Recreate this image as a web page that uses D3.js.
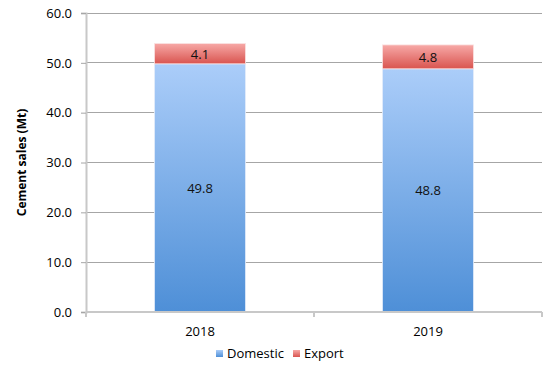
<!DOCTYPE html>
<html><head><meta charset="utf-8">
<script src="https://cdn.jsdelivr.net/npm/d3@7"></script>
<style>body{margin:0;background:#fff;} text{font-family:"Open Sans",sans-serif;}</style>
</head><body>
<svg id="chart" width="554" height="372"></svg>
<script>
const categories = ["2018", "2019"];
const domestic = [49.8, 48.8];
const exportVals = [4.1, 4.8];
const seriesNames = ["Domestic", "Export"];
const yTicks = [0, 10, 20, 30, 40, 50, 60];

const svg = d3.select("#chart");
const m = {l: 86, r: 12, t: 13, b: 60};
const W = 554, H = 372;
const x = d3.scaleBand().domain(categories).range([m.l, W - m.r]).paddingInner(0.6).paddingOuter(0.3);
const y = d3.scaleLinear().domain([0, 60]).range([H - m.b, m.t]);

const defs = svg.append("defs");
function grad(id, top, bottom) {
  const g = defs.append("linearGradient").attr("id", id).attr("x1", 0).attr("y1", 0).attr("x2", 0).attr("y2", 1);
  g.append("stop").attr("offset", "0%").attr("stop-color", top);
  g.append("stop").attr("offset", "100%").attr("stop-color", bottom);
}
grad("gBlue", "#abcdf9", "#4e8fd7");
grad("gRed", "#f7a9a7", "#d9544f");

// gridlines
svg.append("g").selectAll("line").data(yTicks.filter(d => d > 0)).join("line")
  .attr("x1", m.l).attr("x2", W - m.r)
  .attr("y1", d => y(d)).attr("y2", d => y(d))
  .attr("stroke", "#a6a6a6").attr("stroke-width", 1).attr("shape-rendering", "crispEdges");

// y axis
const yAxis = svg.append("g").attr("transform", `translate(${m.l},0)`)
  .call(d3.axisLeft(y).tickValues(yTicks).tickFormat(d3.format(".1f")).tickSize(5).tickPadding(9));
yAxis.select(".domain").attr("stroke", "#c8c8c8").attr("stroke-width", 2);
yAxis.selectAll(".tick line").attr("stroke", "#a6a6a6");
yAxis.selectAll("text").attr("font-size", 13).attr("fill", "#000").style("font-family", "'Open Sans',sans-serif");

// bars
const stack = categories.map((c, i) => ({c, d: domestic[i], e: exportVals[i]}));
const bw = x.bandwidth();
svg.append("g").selectAll("rect").data(stack).join("rect")
  .attr("x", d => x(d.c)).attr("width", bw)
  .attr("y", d => y(d.d)).attr("height", d => y(0) - y(d.d))
  .attr("fill", "url(#gBlue)").attr("stroke", "#e6eefa").attr("stroke-width", 0.8);
svg.append("g").selectAll("rect").data(stack).join("rect")
  .attr("x", d => x(d.c)).attr("width", bw)
  .attr("y", d => y(d.d + d.e)).attr("height", d => y(d.d) - y(d.d + d.e))
  .attr("fill", "url(#gRed)").attr("stroke", "#fbe4e4").attr("stroke-width", 0.8);

// x axis
const xAxisLine = svg.append("g");
xAxisLine.append("line").attr("x1", m.l).attr("x2", W - m.r).attr("y1", y(0)).attr("y2", y(0))
  .attr("stroke", "#c8c8c8").attr("stroke-width", 2);
const step = x.step();
const xTickPos = [m.l, m.l + (W - m.l - m.r) / 2, W - m.r];
xAxisLine.selectAll(".xt").data(xTickPos).join("line").attr("class", "xt")
  .attr("x1", d => d).attr("x2", d => d).attr("y1", y(0)).attr("y2", y(0) + 5)
  .attr("stroke", "#c8c8c8").attr("stroke-width", 2);
svg.append("g").selectAll("text").data(categories).join("text")
  .attr("x", d => x(d) + bw / 2).attr("y", y(0) + 24)
  .attr("text-anchor", "middle").attr("font-size", 13).attr("fill", "#000").text(d => d);

// value labels
svg.append("g").selectAll("text").data(stack).join("text")
  .attr("x", d => x(d.c) + bw / 2).attr("y", d => y(d.d / 2) + 5)
  .attr("text-anchor", "middle").attr("font-size", 13).attr("fill", "#111").text(d => d.d.toFixed(1));
svg.append("g").selectAll("text").data(stack).join("text")
  .attr("x", d => x(d.c) + bw / 2).attr("y", d => y(d.d + d.e / 2) + 5)
  .attr("text-anchor", "middle").attr("font-size", 13).attr("fill", "#111").text(d => d.e.toFixed(1));

// y label
svg.append("text").attr("transform", `translate(26,${(y(0) + y(60)) / 2}) rotate(-90)`)
  .attr("text-anchor", "middle").attr("font-size", 12).attr("font-weight", "bold").attr("fill", "#000")
  .text("Cement sales (Mt)");

// legend
const legend = svg.append("g");
const legItems = [{n: seriesNames[0], f: "url(#gBlue)", x: 216}, {n: seriesNames[1], f: "url(#gRed)", x: 293}];
legItems.forEach(it => {
  legend.append("rect").attr("x", it.x).attr("y", 350).attr("width", 7).attr("height", 7).attr("fill", it.f);
  legend.append("text").attr("x", it.x + 11).attr("y", 358).attr("font-size", 13).attr("fill", "#000").text(it.n);
});
</script>
</body></html>
